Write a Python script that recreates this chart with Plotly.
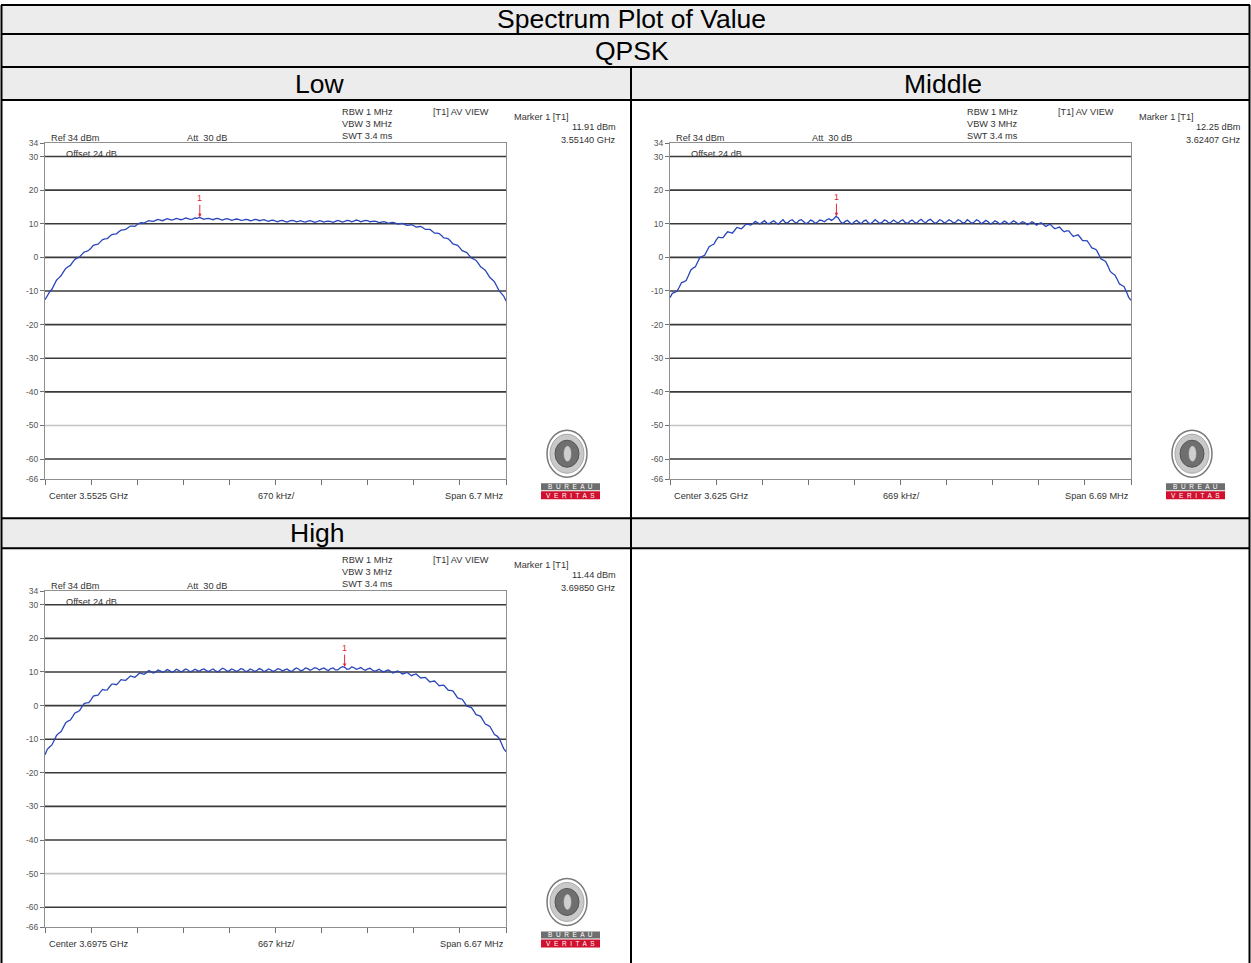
import plotly.graph_objects as go

W, H = 1251, 963

# ---------------- data ----------------
TABLE_TITLE = "Spectrum Plot of Value"
MODULATION = "QPSK"
PANEL_NAMES = ["Low", "Middle", "High"]
CENTER_GHZ = [3.5525, 3.625, 3.6975]
SPAN_MHZ = [6.7, 6.69, 6.67]
CENTER_LABELS = ["Center 3.5525 GHz", "Center 3.625 GHz", "Center 3.6975 GHz"]
DIV_LABELS = ["670 kHz/", "669 kHz/", "667 kHz/"]
SPAN_LABELS = ["Span 6.7 MHz", "Span 6.69 MHz", "Span 6.67 MHz"]
MARKER_FREQ_GHZ = [3.55140, 3.62407, 3.69850]
MARKER_LEVEL_DBM = [11.91, 12.25, 11.44]
MARKER_LEVEL_LABELS = ["11.91 dBm", "12.25 dBm", "11.44 dBm"]
MARKER_FREQ_LABELS = ["3.55140 GHz", "3.62407 GHz", "3.69850 GHz"]
SETTINGS_LEFT = ["RBW 1 MHz", "VBW 3 MHz", "SWT 3.4 ms"]
SETTINGS_REF = "Ref 34 dBm"
SETTINGS_ATT = "Att  30 dB"
SETTINGS_OFFSET = "Offset 24 dB"
SETTINGS_VIEW = "[T1] AV VIEW"
MARKER_TITLE = "Marker 1 [T1]"
Y_TICKS = [34, 30, 20, 10, 0, -10, -20, -30, -40, -50, -60, -66]
GRID_DARK = [30, 20, 10, 0, -10, -20, -30, -40, -60]
GRID_LIGHT = [-50]

TRACE_LOW = [
    -12.6, -11.2, -10.3, -9.5, -8.1, -6.8, -6.1, -5.4, -4.3, -3.3,
    -2.8, -2.4, -1.4, -0.6, -0.2, 0.1, 0.9, 1.6, 1.8, 2.1,
    2.8, 3.6, 3.8, 3.9, 4.6, 5.3, 5.5, 5.6, 6.2, 6.8,
    6.9, 7.0, 7.6, 8.1, 8.2, 8.3, 8.8, 9.3, 9.3, 9.2,
    9.8, 10.2, 10.3, 10.2, 10.6, 10.9, 10.8, 10.7, 11.0, 11.3,
    11.1, 10.9, 11.2, 11.5, 11.3, 11.1, 11.3, 11.6, 11.4, 11.2,
    11.4, 11.7, 11.5, 11.3, 11.4, 11.7, 11.6, 11.9, 11.6, 11.3,
    11.5, 11.6, 11.4, 11.2, 11.5, 11.6, 11.3, 11.1, 11.4, 11.5,
    11.3, 11.0, 11.2, 11.4, 11.3, 11.0, 11.1, 11.3, 11.2, 10.9,
    11.0, 11.3, 11.2, 10.9, 11.1, 11.2, 10.9, 10.7, 11.0, 11.1,
    10.8, 10.6, 10.9, 11.0, 10.7, 10.5, 10.8, 11.0, 10.9, 10.6,
    10.7, 10.9, 10.6, 10.5, 10.8, 10.9, 10.7, 10.4, 10.6, 10.9,
    10.8, 10.5, 10.7, 10.8, 10.6, 10.4, 10.7, 11.0, 10.8, 10.5,
    10.7, 11.0, 10.9, 10.6, 10.8, 11.1, 10.9, 10.6, 10.8, 11.0,
    10.9, 10.6, 10.7, 10.8, 10.6, 10.3, 10.5, 10.6, 10.4, 10.1,
    10.3, 10.4, 10.2, 9.9, 10.0, 10.1, 9.8, 9.5, 9.6, 9.7,
    9.4, 9.0, 9.1, 9.2, 8.8, 8.3, 8.3, 8.3, 7.8, 7.2,
    7.2, 7.1, 6.5, 5.8, 5.7, 5.5, 4.8, 4.0, 3.8, 3.6,
    2.8, 2.0, 1.7, 1.4, 0.6, -0.2, -0.5, -0.9, -1.8, -2.8,
    -3.3, -3.8, -4.9, -6.0, -6.6, -7.3, -8.6, -9.9, -10.7, -11.5,
    -13.0,
]
TRACE_MIDDLE = [
    -12.0, -10.7, -10.4, -10.1, -8.9, -7.5, -7.3, -6.9, -5.4, -3.8,
    -3.2, -2.8, -1.4, 0.0, 0.3, 0.6, 1.9, 3.2, 3.6, 3.9,
    5.1, 6.0, 5.9, 5.9, 6.8, 7.6, 7.4, 7.2, 8.0, 8.9,
    8.7, 8.5, 9.2, 9.9, 9.8, 9.6, 10.1, 10.7, 10.3, 9.9,
    10.4, 10.9, 10.2, 10.0, 10.5, 10.9, 10.3, 9.9, 10.6, 11.2,
    10.4, 10.2, 10.9, 11.2, 10.5, 10.2, 11.0, 11.2, 10.6, 10.0,
    10.4, 11.1, 10.8, 10.1, 10.5, 11.1, 10.9, 10.6, 11.2, 11.5,
    11.0, 11.4, 12.2, 11.7, 10.6, 10.1, 10.7, 11.0, 10.3, 9.9,
    10.6, 11.0, 10.4, 10.0, 10.8, 11.1, 10.3, 10.0, 10.5, 11.2,
    10.7, 10.1, 10.4, 11.1, 10.9, 10.1, 10.5, 11.1, 10.6, 10.2,
    10.8, 11.2, 10.4, 10.1, 10.7, 11.1, 10.5, 10.1, 10.9, 11.3,
    10.6, 10.3, 11.0, 11.3, 10.7, 10.1, 10.5, 11.2, 10.9, 10.2,
    10.6, 11.2, 10.8, 10.2, 10.5, 11.2, 10.9, 10.2, 10.4, 11.2,
    10.7, 10.1, 10.5, 11.2, 10.8, 10.0, 10.4, 11.0, 10.6, 9.9,
    10.3, 10.9, 10.5, 9.9, 10.2, 10.8, 10.4, 9.9, 10.3, 10.9,
    10.5, 9.9, 10.2, 10.6, 10.3, 9.7, 10.1, 10.6, 10.2, 9.6,
    10.0, 10.3, 9.8, 9.2, 9.6, 9.8, 9.1, 8.5, 8.8, 9.0,
    8.2, 7.6, 7.9, 7.9, 7.0, 6.2, 6.5, 6.7, 5.9, 5.0,
    5.0, 4.9, 3.9, 2.8, 2.6, 2.2, 0.9, -0.5, -0.8, -1.2,
    -2.6, -4.2, -4.8, -5.2, -6.5, -7.9, -8.3, -8.7, -10.2, -11.9,
    -12.8,
]
TRACE_HIGH = [
    -14.6, -13.0, -12.3, -11.7, -10.3, -8.9, -8.2, -7.7, -6.4, -5.1,
    -4.6, -4.3, -3.3, -2.2, -1.9, -1.5, -0.4, 0.6, 0.8, 0.9,
    1.8, 2.8, 3.0, 3.1, 4.0, 4.8, 4.6, 4.7, 5.6, 6.4,
    6.4, 6.2, 6.9, 7.7, 7.6, 7.5, 8.1, 8.8, 8.6, 8.4,
    9.0, 9.7, 9.5, 9.3, 9.8, 10.4, 10.1, 9.7, 10.0, 10.6,
    10.3, 9.9, 10.2, 10.7, 10.4, 9.9, 10.2, 10.8, 10.5, 10.0,
    10.4, 10.9, 10.6, 10.0, 10.3, 10.8, 10.5, 10.2, 10.7, 10.9,
    10.4, 10.1, 10.6, 10.9, 10.3, 10.0, 10.6, 11.1, 10.8, 10.2,
    10.4, 10.9, 10.6, 10.1, 10.5, 11.0, 10.8, 10.1, 10.3, 10.9,
    10.6, 10.1, 10.5, 11.0, 10.7, 10.1, 10.4, 10.9, 10.6, 10.1,
    10.5, 11.0, 10.8, 10.3, 10.6, 10.9, 10.4, 10.1, 10.7, 11.2,
    10.9, 10.3, 10.6, 11.2, 11.0, 10.5, 10.8, 11.3, 11.1, 10.6,
    10.9, 11.2, 10.7, 10.4, 11.0, 11.2, 10.6, 10.6, 11.2, 11.6,
    11.4, 10.8, 10.9, 11.5, 11.3, 10.8, 11.0, 11.3, 10.8, 10.5,
    10.9, 11.1, 10.6, 10.2, 10.5, 10.8, 10.3, 10.0, 10.4, 10.6,
    10.1, 9.7, 10.0, 10.3, 9.9, 9.4, 9.6, 9.9, 9.4, 8.9,
    9.2, 9.4, 8.8, 8.2, 8.3, 8.4, 7.7, 7.0, 7.2, 7.3,
    6.6, 5.9, 6.0, 6.1, 5.3, 4.5, 4.5, 4.3, 3.3, 2.3,
    2.1, 1.9, 0.9, -0.2, -0.4, -0.6, -1.6, -2.7, -2.9, -3.2,
    -4.3, -5.5, -5.8, -6.2, -7.4, -8.6, -9.0, -9.7, -11.2, -12.8,
    -13.7,
]
TRACES = [TRACE_LOW, TRACE_MIDDLE, TRACE_HIGH]

# ---------------- layout geometry (pixels in the target picture) ----------------
PANEL_BOX = [(45, 143, 506, 479), (670, 143, 1131, 479), (45, 591, 506, 927)]
PANEL_OFFSET = [(0, 0), (625, 0), (0, 448)]
FONT = "Liberation Sans, Arial, sans-serif"
TRACE_COLOR = "#2a46bb"
RED = "#e0263a"

# the photographed page is mapped vertically as y_pic = SY * y_page + TY
SY, TY = 0.9892, 5.0
HF = 969  # figure height in page pixels


def px(x):
    return x / W


def py(y):
    yp = (y - TY) / SY
    yp = min(max(yp, 0.0), HF)
    return 1 - yp / HF


fig = go.Figure()
shapes = []
annotations = []
layout_axes = {}

for i in range(3):
    s = "" if i == 0 else str(i + 1)
    x0, y0, x1, y1 = PANEL_BOX[i]
    span_ghz = SPAN_MHZ[i] / 1000.0
    start = CENTER_GHZ[i] - span_ghz / 2
    stop = CENTER_GHZ[i] + span_ghz / 2
    tr = TRACES[i]
    n = len(tr)
    freqs = [start + k * span_ghz / (n - 1) for k in range(n)]

    fig.add_trace(go.Scatter(
        x=freqs, y=tr, mode="lines",
        line=dict(color=TRACE_COLOR, width=1.3),
        xaxis="x" + s, yaxis="y" + s, hoverinfo="skip", showlegend=False,
    ))

    layout_axes["xaxis" + s] = dict(
        domain=[px(x0), px(x1)], range=[start, stop],
        tickvals=[start + k * span_ghz / 10 for k in range(11)],
        ticks="outside", ticklen=5, tickwidth=1, tickcolor="#707070",
        showticklabels=False, showgrid=False, zeroline=False,
        showline=True, linecolor="#8f8f8f", linewidth=1, mirror=True,
        anchor="y" + s, fixedrange=True,
    )
    layout_axes["yaxis" + s] = dict(
        domain=[py(y1), py(y0)], range=[-66, 34],
        tickvals=Y_TICKS, ticktext=[str(v) for v in Y_TICKS],
        ticks="outside", ticklen=4, tickwidth=1, tickcolor="#707070",
        tickfont=dict(size=8.5, color="#555555", family=FONT),
        showgrid=False, zeroline=False,
        showline=True, linecolor="#8f8f8f", linewidth=1, mirror=True,
        anchor="x" + s, fixedrange=True,
    )

    xref_dom = "x" + s + " domain"
    for lv in GRID_DARK:
        shapes.append(dict(type="line", xref=xref_dom, yref="y" + s,
                           x0=0, x1=1, y0=lv, y1=lv,
                           line=dict(color="#3a3a3a", width=1.6), layer="below"))
    for lv in GRID_LIGHT:
        shapes.append(dict(type="line", xref=xref_dom, yref="y" + s,
                           x0=0, x1=1, y0=lv, y1=lv,
                           line=dict(color="#c4c4c4", width=1.6), layer="below"))

    # marker 1
    annotations.append(dict(
        x=MARKER_FREQ_GHZ[i], y=MARKER_LEVEL_DBM[i], xref="x" + s, yref="y" + s,
        text="1", showarrow=True, arrowhead=2, arrowsize=0.7, arrowwidth=1,
        arrowcolor=RED, ax=0, ay=-19, font=dict(size=9, color=RED, family=FONT),
    ))

    ox, oy = PANEL_OFFSET[i]

    def txt(t, x, y, anchor="left", size=9.2, color="#333333"):
        annotations.append(dict(
            x=px(x + ox), y=py(y + oy), xref="paper", yref="paper",
            text=t, showarrow=False, xanchor=anchor, yanchor="middle",
            font=dict(size=size, color=color, family=FONT),
        ))

    for k, t in enumerate(SETTINGS_LEFT):
        txt(t, 340, 112 + 12 * k)
    txt(SETTINGS_VIEW, 431, 112)
    txt(MARKER_TITLE, 512, 117)
    txt(MARKER_LEVEL_LABELS[i], 618, 127, "right")
    txt(MARKER_FREQ_LABELS[i], 618, 140, "right")
    txt(SETTINGS_REF, 49, 138)
    txt(SETTINGS_ATT, 185, 138)
    txt(SETTINGS_OFFSET, 64, 154)
    txt(CENTER_LABELS[i], 47, 496)
    txt(DIV_LABELS[i], 276, 496, "center")
    txt(SPAN_LABELS[i], 506, 496, "right")

    # Bureau Veritas logo
    def ell(a, b, c, d, fill, lc, lw):
        shapes.append(dict(type="circle", xref="paper", yref="paper",
                           x0=px(a + ox), x1=px(c + ox), y0=py(d + oy), y1=py(b + oy),
                           line=dict(color=lc, width=lw), fillcolor=fill))

    ell(547, 430, 587, 477, "#ffffff", "#7a7a7a", 1.5)
    ell(550, 434, 584, 473, "#c9c9c9", "#9a9a9a", 0.8)
    ell(555, 440, 579, 467, "#6f6f6f", "#555555", 1)
    ell(564, 446, 571, 461, "#cfcfcf", "#cfcfcf", 0.5)
    shapes.append(dict(type="rect", xref="paper", yref="paper",
                       x0=px(541 + ox), x1=px(600 + ox), y0=py(490 + oy), y1=py(483 + oy),
                       line=dict(width=0), fillcolor="#6e6e6e"))
    shapes.append(dict(type="rect", xref="paper", yref="paper",
                       x0=px(541 + ox), x1=px(600 + ox), y0=py(499 + oy), y1=py(491 + oy),
                       line=dict(width=0), fillcolor="#d0102e"))
    txt("B  U  R  E  A  U", 570.5, 486.5, "center", 6.5, "#ffffff")
    txt("V  E  R  I  T  A  S", 570.5, 495, "center", 6.5, "#ffffff")

# ---------------- table ----------------
HEAD_BG = "#ececec"
shapes.insert(0, dict(type="rect", xref="paper", yref="paper",
                      x0=px(1), x1=px(1250), y0=py(100), y1=py(3),
                      line=dict(width=0), fillcolor=HEAD_BG, layer="below"))
shapes.insert(0, dict(type="rect", xref="paper", yref="paper",
                      x0=px(1), x1=px(1250), y0=py(548), y1=py(518),
                      line=dict(width=0), fillcolor=HEAD_BG, layer="below"))
for yy in [3, 34, 67, 100, 518, 548]:
    shapes.append(dict(type="line", xref="paper", yref="paper",
                       x0=px(1), x1=px(1250), y0=py(yy), y1=py(yy),
                       line=dict(color="#000000", width=2)))
for (xx, ya, yb) in [(1.5, 3, 975), (1249.5, 3, 975), (631, 67, 975)]:
    shapes.append(dict(type="line", xref="paper", yref="paper",
                       x0=px(xx), x1=px(xx), y0=py(ya), y1=py(yb),
                       line=dict(color="#000000", width=2)))


def head(t, x, y):
    annotations.append(dict(x=px(x), y=py(y), xref="paper", yref="paper",
                            text=t, showarrow=False, xanchor="center", yanchor="middle",
                            font=dict(size=26.5, color="#000000", family=FONT)))


head(TABLE_TITLE, 631, 19)
head(MODULATION, 632, 51)
head(PANEL_NAMES[0], 319, 84)
head(PANEL_NAMES[1], 943, 84)
head(PANEL_NAMES[2], 318, 533)

fig.update_layout(
    width=W, height=HF, margin=dict(l=0, r=0, t=0, b=0),
    paper_bgcolor="#ffffff", plot_bgcolor="#ffffff",
    showlegend=False, shapes=shapes, annotations=annotations,
    **layout_axes,
)

PAGE_FIX = (
    "var d=document.getElementById('{plot_id}');"
    "d.style.position='fixed';d.style.top='0px';d.style.left='0px';"
    "document.documentElement.style.margin='0px';"
    "document.documentElement.style.overflow='hidden';"
    "document.body.style.margin='0px';document.body.style.padding='0px';"
    "document.body.style.overflow='hidden';"
)

fig.write_html(
    "out.html",
    config={"displayModeBar": False},
    post_script=PAGE_FIX,
)
